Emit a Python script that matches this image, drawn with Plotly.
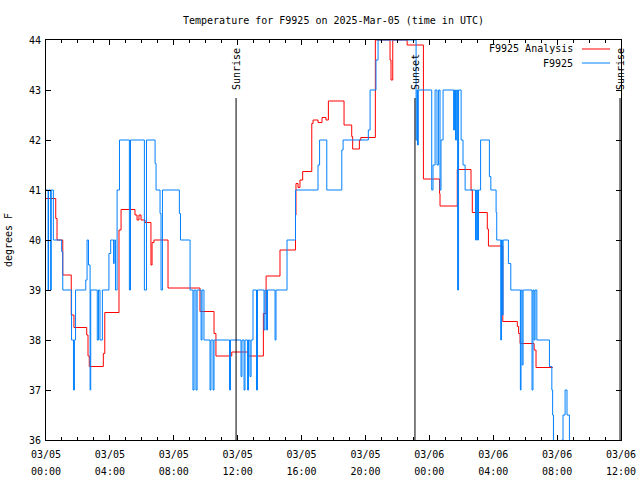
import pandas as pd
import plotly.graph_objects as go

BASE = pd.Timestamp("2025-03-05 00:00")

# F9925 Analysis (hours after 03/05 00:00 UTC, degrees F)
analysis_hours = [0.0, 0.61, 0.69, 1.05, 1.58, 1.75, 2.55, 2.63, 2.71, 3.59, 3.68, 4.57, 4.70, 5.57,
                  5.70, 5.82, 5.95, 6.20, 6.57, 6.64, 6.76, 7.64, 9.64, 10.52, 10.64, 11.63, 12.65,
                  13.61, 13.78, 14.65, 15.62, 15.65, 15.78, 15.90, 16.07, 16.64, 16.72, 17.03, 17.28,
                  17.53, 17.68, 18.66, 19.14, 19.20, 19.62, 19.71, 20.62, 21.54, 21.60, 21.71, 22.61,
                  23.63, 24.64, 24.67, 25.75, 26.61, 26.69, 27.63, 27.70, 28.60, 29.51, 29.59, 29.68,
                  30.56, 30.68, 31.73]
analysis_temp = [40.83, 40.43, 40.0, 39.3, 38.5, 38.25, 38.1, 37.68, 37.47, 37.73, 38.55, 40.2, 40.61,
                 40.5, 40.4, 40.5, 40.4, 40.35, 39.5, 39.95, 40.0, 39.04, 38.57, 38.13, 37.68, 37.76,
                 37.68, 38.53, 39.28, 39.8, 40.5, 41.13, 41.05, 41.2, 41.37, 42.33, 42.4, 42.35, 42.45,
                 42.4, 42.78, 42.3, 42.07, 41.82, 42.0, 42.05, 44.0, 43.6, 43.2, 44.0, 43.9, 41.22,
                 40.93, 40.68, 41.41, 41.0, 40.55, 40.22, 39.88, 38.37, 38.27, 38.13, 37.93, 37.8,
                 37.45, 37.45]

# F9925 station observations
station_hours = [0.0, 0.13, 0.16, 0.29, 0.33, 0.46, 0.98, 1.05, 1.60, 1.72, 1.78, 1.85, 2.49, 2.57,
                 2.66, 2.76, 2.80, 3.21, 3.29, 3.38, 3.53, 3.94, 4.05, 4.23, 4.27, 4.35, 4.45, 4.60,
                 5.22, 5.29, 6.16, 6.29,
                 6.83, 6.89, 7.14, 7.20, 7.29, 8.35, 8.42, 9.02, 9.20, 9.27, 9.39, 9.46, 9.71, 9.77,
                 9.89, 10.27, 10.33, 10.46, 10.52, 11.49, 11.55, 12.21, 12.27, 12.40, 12.46, 12.62,
                 12.68, 12.77, 12.84, 12.96, 13.18, 13.24, 13.65, 13.71, 13.81, 13.87, 14.34, 14.40,
                 15.09, 15.62, 17.03, 17.13, 17.58, 18.52, 18.60, 20.18, 20.29, 20.66, 20.79, 23.17,
                 23.23, 23.26, 23.31, 24.15, 24.23, 24.36, 24.48, 24.58, 24.67, 24.73, 24.86, 25.52,
                 25.58, 25.64, 25.71, 25.77, 25.83, 25.99, 26.11, 26.24, 26.89, 26.96, 27.02, 27.08,
                 27.21, 27.76, 27.85, 28.18, 28.22, 28.47, 28.52, 28.57, 28.62, 28.95, 29.10, 29.70,
                 29.74, 29.81, 29.87, 30.43, 30.49, 30.56, 30.62, 30.73, 31.52, 31.67, 31.72, 31.77,
                 32.29, 32.37, 32.50, 32.62, 32.77, 32.81]
station_temp = [41.0, 39.0, 41.0, 39.0, 41.0, 40.0, 39.77, 39.0, 38.0, 37.0, 38.0, 39.0, 39.2, 40.0,
                39.5, 37.0, 39.0, 38.0, 39.0, 38.0, 39.0, 39.73, 40.0, 39.53, 40.0, 39.0, 41.0, 42.0,
                39.0, 42.0, 39.0, 42.0,
                41.53, 41.0, 40.53, 39.0, 41.0, 40.53, 40.0, 39.0, 37.0, 39.0, 37.0, 39.0, 38.0, 39.0,
                38.0, 37.0, 38.0, 37.0, 38.0, 37.0, 38.0, 37.27, 38.0, 37.0, 38.0, 37.0,
                38.0, 37.27, 38.0, 39.0, 37.0, 39.0, 38.2, 39.0, 38.2, 39.0, 38.0, 39.0,
                40.0, 41.0, 41.5, 42.0, 41.0, 41.8, 42.0, 42.2, 43.0, 43.6, 44.0, 42.0,
                43.0, 41.9, 43.0, 41.0, 41.5, 43.0, 41.5, 43.0, 41.0, 42.0, 43.0, 42.2,
                43.0, 42.0, 43.0, 39.0, 43.0, 42.0, 41.5, 41.0, 40.0, 41.0, 40.0, 41.0,
                42.0, 41.27, 41.0, 40.55, 40.0, 38.0, 40.0, 38.5, 40.0, 39.53, 39.0, 37.0,
                39.0, 37.5, 39.0, 37.0, 39.0, 38.0, 39.0, 38.0, 37.47, 37.0, 36.5, 35.5,
                36.0, 36.5, 37.0, 36.5, 35.5, 35.5]

sun_event_hours = [11.9, 23.1, 35.94]
sun_event_labels = ["Sunrise", "Sunset", "Sunrise"]
y_ticks = [36, 37, 38, 39, 40, 41, 42, 43, 44]
series_names = ["F9925 Analysis", "F9925"]
series_colors = ["#ff0000", "#0080ff"]


def to_time(hours):
    return [BASE + pd.Timedelta(hours=h) for h in hours]


FONT = "DejaVu Sans Mono"
fig = go.Figure()
fig.add_trace(go.Scatter(x=to_time(analysis_hours), y=analysis_temp, mode="lines",
                         line=dict(color=series_colors[0], width=1, shape="hv"),
                         name=series_names[0], showlegend=False, xaxis="x", yaxis="y"))
# station trace lives on the overlaid x2 axis (same range) which carries the time-of-day labels
fig.add_trace(go.Scatter(x=to_time(station_hours), y=station_temp, mode="lines",
                         line=dict(color=series_colors[1], width=1, shape="hv"),
                         name=series_names[1], showlegend=False, xaxis="x2", yaxis="y"))

for h, lab in zip(sun_event_hours, sun_event_labels):
    t = BASE + pd.Timedelta(hours=h)
    fig.add_shape(type="line", xref="x", yref="paper", x0=t, x1=t, y0=0, y1=0.855,
                  line=dict(color="black", width=1))
    fig.add_annotation(x=t, xref="x", y=0.87, yref="paper", text=lab, textangle=-90,
                       showarrow=False, xanchor="center", yanchor="bottom",
                       font=dict(family=FONT, size=10, color="black"))

# legend drawn gnuplot-style (text left of sample)
leg_y = [0.9775, 0.9425]
for name, col, yy in zip(series_names, series_colors, leg_y):
    fig.add_annotation(x=0.92, xref="paper", y=yy, yref="paper", text=name, showarrow=False,
                       xanchor="right", yanchor="middle", font=dict(family=FONT, size=10, color="black"))
    fig.add_shape(type="line", xref="paper", yref="paper", x0=0.932, x1=0.981, y0=yy, y1=yy,
                  line=dict(color=col, width=1))

x_range = [BASE, BASE + pd.Timedelta(hours=36)]
fig.update_layout(
    width=640, height=480,
    margin=dict(l=46, r=19, t=40, b=40),
    paper_bgcolor="white", plot_bgcolor="white",
    font=dict(family=FONT, size=10, color="black"),
    title=dict(text="Temperature for F9925 on 2025-Mar-05 (time in UTC)", x=0.5, xref="paper",
               y=1 - 20 / 480, yref="container", xanchor="center", yanchor="middle",
               font=dict(family=FONT, size=10, color="black")),
    showlegend=False,
    hovermode=False,
    xaxis=dict(
        range=x_range,
        dtick=4 * 3600 * 1000, tick0=BASE, tickformat="%m/%d",
        ticks="inside", ticklen=5, tickcolor="black", showline=True, linecolor="black", linewidth=1,
        mirror="allticks", showgrid=False, zeroline=False, automargin=False,
        minor=dict(dtick=3600 * 1000, ticks="inside", ticklen=3, tickcolor="black", showgrid=False),
        ticklabelstandoff=5,
        tickfont=dict(family=FONT, size=10),
    ),
    xaxis2=dict(overlaying="x", anchor="y", side="bottom", range=x_range, matches="x",
                dtick=4 * 3600 * 1000, tick0=BASE, tickformat="%H:%M", ticks="",
                showline=False, showgrid=False, zeroline=False, automargin=False,
                ticklabelstandoff=24, tickfont=dict(family=FONT, size=10)),
    yaxis=dict(
        range=[36, 44], tickvals=y_ticks, ticktext=[str(v) for v in y_ticks],
        ticks="inside", ticklen=5, tickcolor="black", showline=True, linecolor="black", linewidth=1,
        mirror="ticks", showgrid=False, zeroline=False, automargin=False,
        title=dict(text="degrees F", font=dict(family=FONT, size=10), standoff=14),
        ticklabelstandoff=2,
        tickfont=dict(family=FONT, size=10),
    ),
)

fig.write_html("out.html", config={"displayModeBar": False},
               post_script="document.body.style.margin='0';")
